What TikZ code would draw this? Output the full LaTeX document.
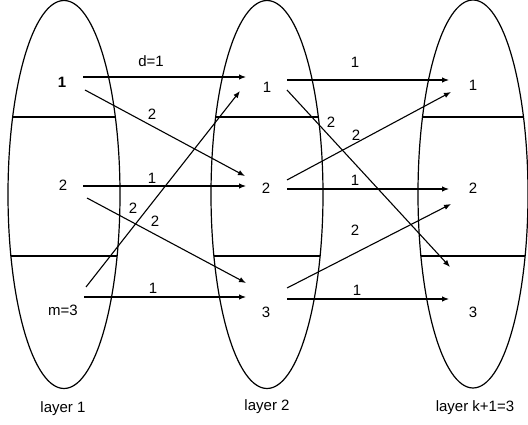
\documentclass[tikz,border=0pt]{standalone}
\usepackage{fontspec}
\setmainfont{Liberation Sans}
\usetikzlibrary{arrows.meta}
\tikzset{
  lay/.style={line width=1.2pt},
  sep/.style={line width=1.2pt},
  arr/.style={line width=1.1pt,-{Latex[length=7pt,width=5.5pt]}},
  vtx/.style={inner sep=0pt,font=\fontsize{15}{17}\selectfont},
  lbl/.style={inner sep=0pt,font=\fontsize{15}{17}\selectfont},
}
\begin{document}
\begin{tikzpicture}[x=1pt,y=-1pt]
\useasboundingbox (0,0) rectangle (528,425);
% layers
\foreach \cx/\cy/\rx in {64/194.5/56, 267/194.5/56, 473/194/55}{
  \draw[lay] (\cx,\cy) ellipse [x radius=\rx, y radius=194];
  \begin{scope}
    \clip (\cx,\cy) ellipse [x radius=\rx, y radius=194];
    \draw[sep] (\cx-70,117) -- (\cx+70,117);
    \draw[sep] (\cx-70,256) -- (\cx+70,256);
  \end{scope}
}
% vertices
\node[vtx,font=\fontsize{15}{17}\selectfont\bfseries] (A1) at (62,82) {1};
\node[vtx] (A2) at (63,185) {2};
\node[vtx] (A3) at (63,310) {m=3};
\node[vtx] (B1) at (267,87) {1};
\node[vtx] (B2) at (266,188) {2};
\node[vtx] (B3) at (266,312) {3};
\node[vtx] (C1) at (473,85) {1};
\node[vtx] (C2) at (473,188) {2};
\node[vtx] (C3) at (473,312) {3};
% layer names
\node[lbl] (L1) at (63,409) {layer 1};
\node[lbl] (L2) at (267,407) {layer 2};
\node[lbl] (L3) at (475,408) {layer k+1=3};
% connectors layer 1 -> 2
\draw[arr] ([shift={(21,-5)}]A1.center) -- ([shift={(-21,-10)}]B1.center);
\draw[arr] ([shift={(23,8)}]A1.center) -- ([shift={(-21,-12)}]B2.center);
\draw[arr] ([shift={(20,1)}]A2.center) -- ([shift={(-20,-2)}]B2.center);
\draw[arr] ([shift={(24,13)}]A2.center) -- ([shift={(-20,-29)}]B3.center);
\draw[arr] ([shift={(23,-23)}]A3.center) -- ([shift={(-27,4)}]B1.center);
\draw[arr] ([shift={(21,-13)}]A3.center) -- ([shift={(-20,-15)}]B3.center);
% connectors layer 2 -> 3
\draw[arr] ([shift={(20,-7)}]B1.center) -- ([shift={(-24,-5)}]C1.center);
\draw[arr] ([shift={(20,3)}]B1.center) -- ([shift={(-23,-45)}]C3.center);
\draw[arr] ([shift={(21,-8)}]B2.center) -- ([shift={(-22,7)}]C1.center);
\draw[arr] ([shift={(21,1)}]B2.center) -- ([shift={(-24,1)}]C2.center);
\draw[arr] ([shift={(21,-24)}]B3.center) -- ([shift={(-22,16)}]C2.center);
\draw[arr] ([shift={(21,-13)}]B3.center) -- ([shift={(-24,-13)}]C3.center);
% weights
\node[lbl] (w1) at (151,61) {d=1};
\node[lbl] (w2) at (152,114) {2};
\node[lbl] (w3) at (152,178) {1};
\node[lbl] (w4) at (155,221) {2};
\node[lbl] (w5) at (133,208) {2};
\node[lbl] (w6) at (153,288) {1};
\node[lbl] (w7) at (355,62) {1};
\node[lbl] (w8) at (331,122) {2};
\node[lbl] (w9) at (356,135) {2};
\node[lbl] (w10) at (355,180) {1};
\node[lbl] (w11) at (355,230) {2};
\node[lbl] (w12) at (357,290) {1};
\end{tikzpicture}
\end{document}
